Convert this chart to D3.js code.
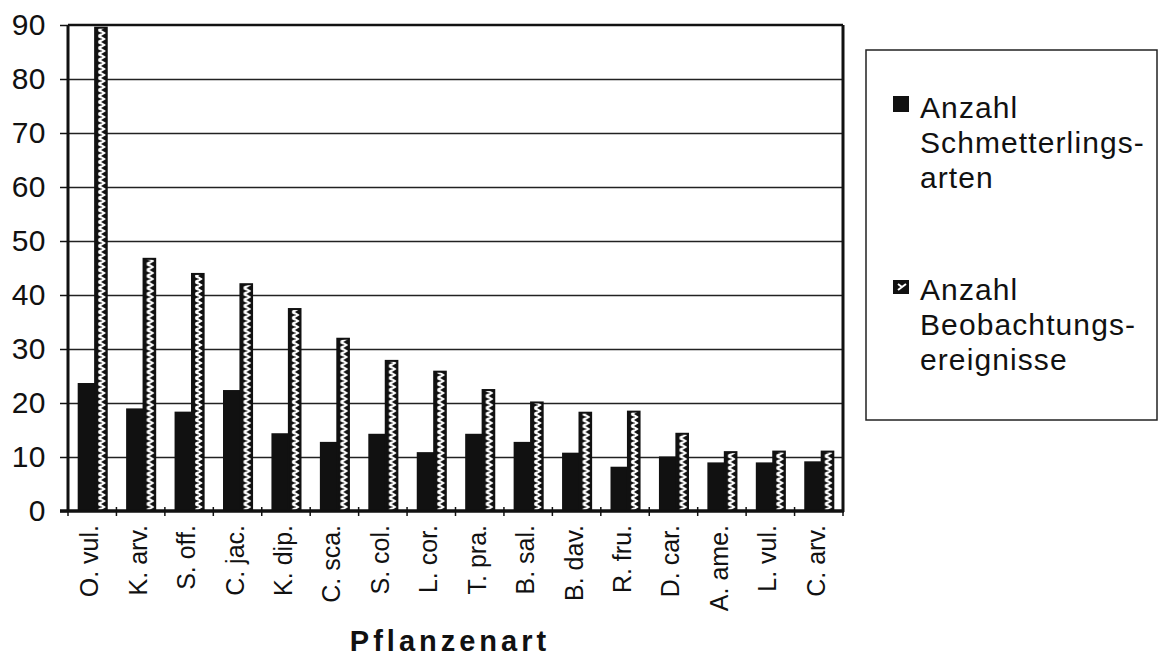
<!DOCTYPE html>
<html>
<head>
<meta charset="utf-8">
<script src="https://cdn.jsdelivr.net/npm/d3@7"></script>
<style>
  html, body { margin: 0; padding: 0; background: #fff; }
  svg { display: block; font-family: "Liberation Sans", Arial, Helvetica, sans-serif; }
</style>
</head>
<body>
<svg id="chart" width="1159" height="658"></svg>
<script>
const categories = ["O. vul.", "K. arv.", "S. off.", "C. jac.", "K. dip.", "C. sca.", "S. col.", "L. cor.", "T. pra.", "B. sal.", "B. dav.", "R. fru.", "D. car.", "A. ame.", "L. vul.", "C. arv."];
const schmetterlingsarten = [23.7, 19, 18.4, 22.4, 14.4, 12.8, 14.3, 10.9, 14.3, 12.8, 10.8, 8.2, 10.1, 9, 9, 9.2];
const beobachtungsereignisse = [89.5, 46.7, 43.9, 42, 37.4, 31.9, 27.8, 25.8, 22.4, 20.1, 18.2, 18.4, 14.3, 10.9, 11, 11];
const yTicks = [0, 10, 20, 30, 40, 50, 60, 70, 80, 90];
const legendLabels = [["Anzahl", "Schmetterlings-", "arten"], ["Anzahl", "Beobachtungs-", "ereignisse"]];
const xTitle = "Pflanzenart";

const svg = d3.select("#chart");
const pLeft = 68, pRight = 843, pTop = 25, pBottom = 511;

const x = d3.scaleBand().domain(categories).range([pLeft, pRight]).paddingInner(0.4).paddingOuter(0.2);
const y = d3.scaleLinear().domain([0, 90]).range([pBottom, pTop]);

// pattern for hatched bars
const defs = svg.append("defs");
const pw = 12;
const pat = defs.append("pattern").attr("id", "hatch")
  .attr("patternUnits", "userSpaceOnUse").attr("width", pw).attr("height", 6);
pat.append("rect").attr("width", pw).attr("height", 6).attr("fill", "#111");
pat.append("path").attr("d", `M${pw/2 - 2.5},0 L${pw/2 + 2.5},3 L${pw/2 - 2.5},6`)
  .attr("fill", "none").attr("stroke", "#fff").attr("stroke-width", 2.6);
pat.append("rect").attr("x", pw/2 - 0.6).attr("y", 2.4).attr("width", 1.2).attr("height", 1.2).attr("fill", "#111");

// gridlines
svg.append("g")
  .attr("transform", `translate(${pLeft},0)`)
  .call(d3.axisLeft(y).tickValues(yTicks.filter(d => d > 0 && d < 90)).tickSize(-(pRight - pLeft)).tickFormat(""))
  .call(g => g.select(".domain").remove())
  .call(g => g.selectAll("line").attr("stroke", "#222").attr("stroke-width", 1.5));

// y axis ticks & labels
svg.append("g")
  .attr("transform", `translate(${pLeft},0)`)
  .call(d3.axisLeft(y).tickValues(yTicks).tickSize(8).tickPadding(14))
  .call(g => g.select(".domain").remove())
  .call(g => g.selectAll("line").attr("stroke", "#111").attr("stroke-width", 1.5))
  .call(g => g.selectAll("text").attr("font-size", 30).attr("fill", "#111")
    .attr("letter-spacing", 0.5)
    .attr("font-family", "'Liberation Sans', Arial, sans-serif"));

// bars
const bw = x.bandwidth();
const wBlack = bw * 0.6, wHatch = bw * 0.4;
const groups = svg.append("g").selectAll("g").data(categories).join("g");
groups.append("rect")
  .attr("x", d => x(d))
  .attr("y", (d, i) => y(schmetterlingsarten[i]))
  .attr("width", wBlack)
  .attr("height", (d, i) => y(0) - y(schmetterlingsarten[i]))
  .attr("fill", "#111");
groups.append("g")
  .attr("transform", d => `translate(${x(d) + wBlack},0)`)
  .append("rect")
  .attr("x", 0)
  .attr("y", (d, i) => y(beobachtungsereignisse[i]))
  .attr("width", wHatch)
  .attr("height", (d, i) => y(0) - y(beobachtungsereignisse[i]))
  .attr("fill", "url(#hatch)")
  .attr("stroke", "#111").attr("stroke-width", 2);

// plot frame
svg.append("line").attr("x1", pLeft).attr("x2", pRight).attr("y1", pTop).attr("y2", pTop)
  .attr("stroke", "#111").attr("stroke-width", 2.5);
svg.append("line").attr("x1", pLeft).attr("x2", pLeft).attr("y1", pTop).attr("y2", pBottom)
  .attr("stroke", "#111").attr("stroke-width", 3);
svg.append("line").attr("x1", pRight).attr("x2", pRight).attr("y1", pTop).attr("y2", pBottom + 1)
  .attr("stroke", "#111").attr("stroke-width", 3);

// x axis
const step = x.step();
const boundaries = d3.range(categories.length + 1).map(i => pLeft + i * step);
svg.append("g").selectAll("line").data(boundaries).join("line")
  .attr("x1", d => d).attr("x2", d => d)
  .attr("y1", pBottom - 4).attr("y2", pBottom + 5)
  .attr("stroke", "#111").attr("stroke-width", 1.5);
svg.append("line").attr("x1", pLeft - 8).attr("x2", pRight + 1).attr("y1", pBottom).attr("y2", pBottom)
  .attr("stroke", "#111").attr("stroke-width", 3.5);

const xAxis = svg.append("g")
  .attr("transform", `translate(0,${pBottom})`)
  .call(d3.axisBottom(x).tickSize(0).tickPadding(0))
  .call(g => g.select(".domain").remove());
xAxis.selectAll(".tick").attr("transform", d => `translate(${x(d) + bw / 2 - 3},0)`);
xAxis.selectAll("text")
  .attr("font-size", 25).attr("fill", "#111")
  .attr("font-family", "'Liberation Sans', Arial, sans-serif")
  .attr("text-anchor", "end")
  .attr("transform", "rotate(-90)")
  .attr("x", -14).attr("y", 0).attr("dy", "0.36em");

// x title
svg.append("text")
  .attr("x", 450).attr("y", 651)
  .attr("text-anchor", "middle")
  .attr("font-size", 29).attr("font-weight", "bold")
  .attr("letter-spacing", 4)
  .attr("fill", "#111")
  .text(xTitle);

// legend
svg.append("rect").attr("x", 866).attr("y", 50).attr("width", 291).attr("height", 370)
  .attr("fill", "none").attr("stroke", "#222").attr("stroke-width", 1.5);
const legendY = [118, 300];
legendLabels.forEach((lines, k) => {
  const g = svg.append("g");
  if (k === 0) {
    g.append("rect").attr("x", 893).attr("y", legendY[k] - 22).attr("width", 16).attr("height", 16).attr("fill", "#111");
  } else {
    g.append("rect").attr("x", 893).attr("y", legendY[k] - 20).attr("width", 16).attr("height", 14).attr("fill", "#111");
    g.append("path").attr("d", `M898,${legendY[k]-16} l4,3 l4,-3 M898,${legendY[k]-10} l4,-3`)
      .attr("stroke", "#fff").attr("stroke-width", 2).attr("fill", "none");
  }
  g.selectAll("text").data(lines).join("text")
    .attr("x", 920).attr("y", (d, i) => legendY[k] + i * 35)
    .attr("font-size", 30).attr("letter-spacing", 1.1).attr("fill", "#111")
    .text(d => d);
});
</script>
</body>
</html>
